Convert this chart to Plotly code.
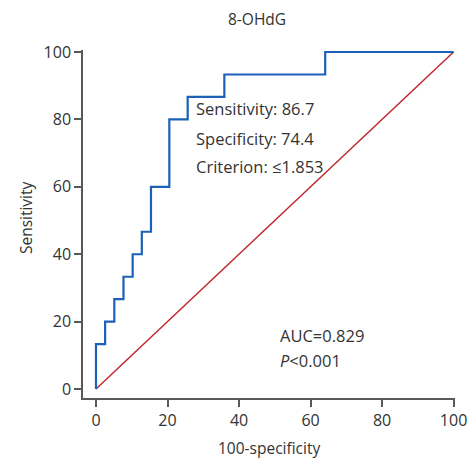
import plotly.graph_objects as go

# ROC step points (100-specificity, sensitivity)
fpr = [0, 0, 2.56, 2.56, 5.13, 5.13, 7.69, 7.69, 10.26, 10.26, 12.82, 12.82,
       15.38, 15.38, 20.51, 20.51, 25.64, 25.64, 35.90, 35.90, 64.10, 64.10, 100]
tpr = [0, 13.33, 13.33, 20.0, 20.0, 26.67, 26.67, 33.33, 33.33, 40.0, 40.0, 46.67,
       46.67, 60.0, 60.0, 80.0, 80.0, 86.67, 86.67, 93.33, 93.33, 100, 100]
diag_x = [0, 100]
diag_y = [0, 100]
tick_vals = [0, 20, 40, 60, 80, 100]
tick_text = ["0", "20", "40", "60", "80", "100"]

title = "8-OHdG"
stats_lines = ["Sensitivity: 86.7", "Specificity: 74.4", "Criterion: ≤1.853"]
auc_text = "AUC=0.829"
p_text = "<i>P</i><0.001"

FONT = "Open Sans"
TXT = "#333333"
AX = "#595959"

fig = go.Figure()
fig.add_trace(go.Scatter(x=diag_x, y=diag_y, mode="lines",
                         line=dict(color="#c0272d", width=1.5), hoverinfo="skip"))
fig.add_trace(go.Scatter(x=fpr, y=tpr, mode="lines",
                         line=dict(color="#1c60b8", width=2.2), hoverinfo="skip"))

axis_common = dict(showgrid=False, zeroline=False, showline=True, linecolor=AX,
                   linewidth=1.5, ticks="outside", ticklen=7, tickwidth=1.5,
                   tickcolor=AX, tickvals=tick_vals, ticktext=tick_text,
                   automargin=False,
                   tickfont=dict(family=FONT, size=16, color=TXT))

fig.update_layout(
    width=471, height=463,
    margin=dict(l=83, r=16, t=50, b=65),
    paper_bgcolor="white", plot_bgcolor="white",
    showlegend=False,
    xaxis=dict(range=[-3.63, 100.4], **axis_common),
    yaxis=dict(range=[-2.65, 100.6], **axis_common),
)

ann = []
ann.append(dict(text=title, xref="paper", yref="paper", x=0.469, y=1.089,
                xanchor="center", yanchor="middle", showarrow=False,
                font=dict(family=FONT, size=15.5, color=TXT)))
ann.append(dict(text="Sensitivity", xref="paper", yref="paper", x=-0.155, y=0.518,
                xanchor="center", yanchor="middle", textangle=-90, showarrow=False,
                font=dict(family=FONT, size=15.5, color=TXT)))
ann.append(dict(text="100-specificity", xref="paper", yref="paper", x=0.5, y=-0.143,
                xanchor="center", yanchor="middle", showarrow=False,
                font=dict(family=FONT, size=15.5, color=TXT)))
for txt, yy in zip(stats_lines, [83.3, 74.4, 66.1]):
    ann.append(dict(text=txt, x=27.4, y=yy, xref="x", yref="y", xanchor="left",
                    yanchor="middle", showarrow=False,
                    font=dict(family=FONT, size=16.5, color=TXT)))
ann.append(dict(text=auc_text, x=50.9, y=16.0, xref="x", yref="y", xanchor="left",
                yanchor="middle", showarrow=False, font=dict(family=FONT, size=16.5, color=TXT)))
ann.append(dict(text=p_text, x=50.9, y=8.6, xref="x", yref="y", xanchor="left",
                yanchor="middle", showarrow=False, font=dict(family=FONT, size=16.5, color=TXT)))
fig.update_layout(annotations=ann)

fig.write_html("out.html", config={"displayModeBar": False},
               post_script="document.body.style.margin='0';document.body.style.overflow='hidden';")
